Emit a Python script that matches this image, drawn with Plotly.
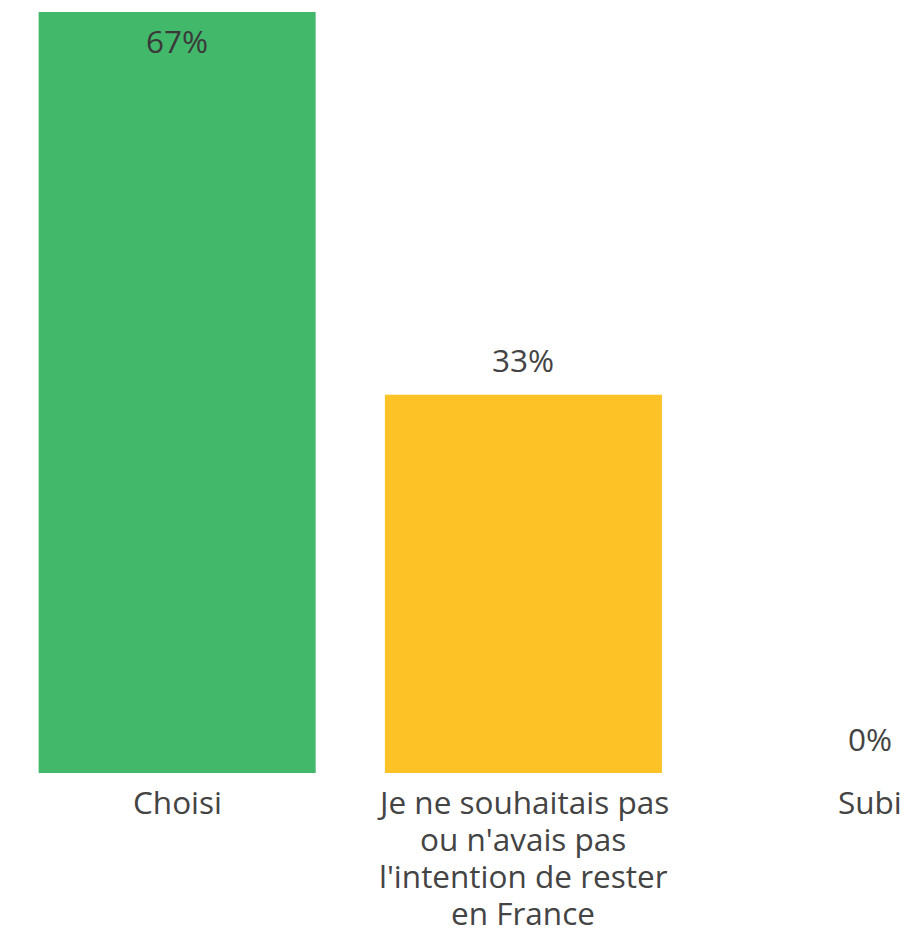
import plotly.graph_objects as go

categories = ["Choisi", "Je ne souhaitais pas<br>ou n'avais pas<br>l'intention de rester<br>en France", "Subi"]
values = [66.8, 33.2, 0]
labels = ["67%", "33%", "0%"]
colors = ["#42B86A", "#FDC226", "#E8505B"]
label_inside = [True, False, False]

FONT = "Open Sans"
SIZE = 31.5
COLOR = "#444444"
LINE_GAP = 37

fig = go.Figure(go.Bar(
    x=categories, y=values,
    marker=dict(color=colors, line=dict(width=0)),
    hoverinfo="skip",
))

annotations = []
# value labels
for cat, val, lab, inside in zip(categories, values, labels, label_inside):
    annotations.append(dict(
        x=cat, y=val, xref="x", yref="y", text=lab, showarrow=False,
        xanchor="center", yanchor="middle",
        yshift=-28 if inside else 35,
        font=dict(family=FONT, size=SIZE, color="#3a3a3a" if inside else COLOR),
    ))
# category labels, one line at a time
for cat in categories:
    for i, line in enumerate(cat.split("<br>")):
        ann = dict(
            x=cat, y=0, xref="x", yref="paper", text=line, showarrow=False,
            xanchor="center", yanchor="middle",
            yshift=-28 - i * LINE_GAP,
            font=dict(family=FONT, size=SIZE, color=COLOR),
        )
        if not any(ch in line for ch in "gjpqyJ,"):
            ann["height"] = LINE_GAP
        annotations.append(ann)

fig.update_layout(
    width=904, height=930,
    margin=dict(l=4, r=0, t=12, b=157),
    plot_bgcolor="white", paper_bgcolor="white",
    bargap=0.2, showlegend=False,
    font=dict(family=FONT, size=SIZE, color=COLOR),
    xaxis=dict(range=[-0.5, 2.099], showgrid=False, showline=False, ticks="",
               showticklabels=False, zeroline=False),
    yaxis=dict(range=[0, 66.8], visible=False),
    annotations=annotations,
)
fig.write_html("out.html", config={"displayModeBar": False},
               post_script="document.body.style.margin='0px';")
